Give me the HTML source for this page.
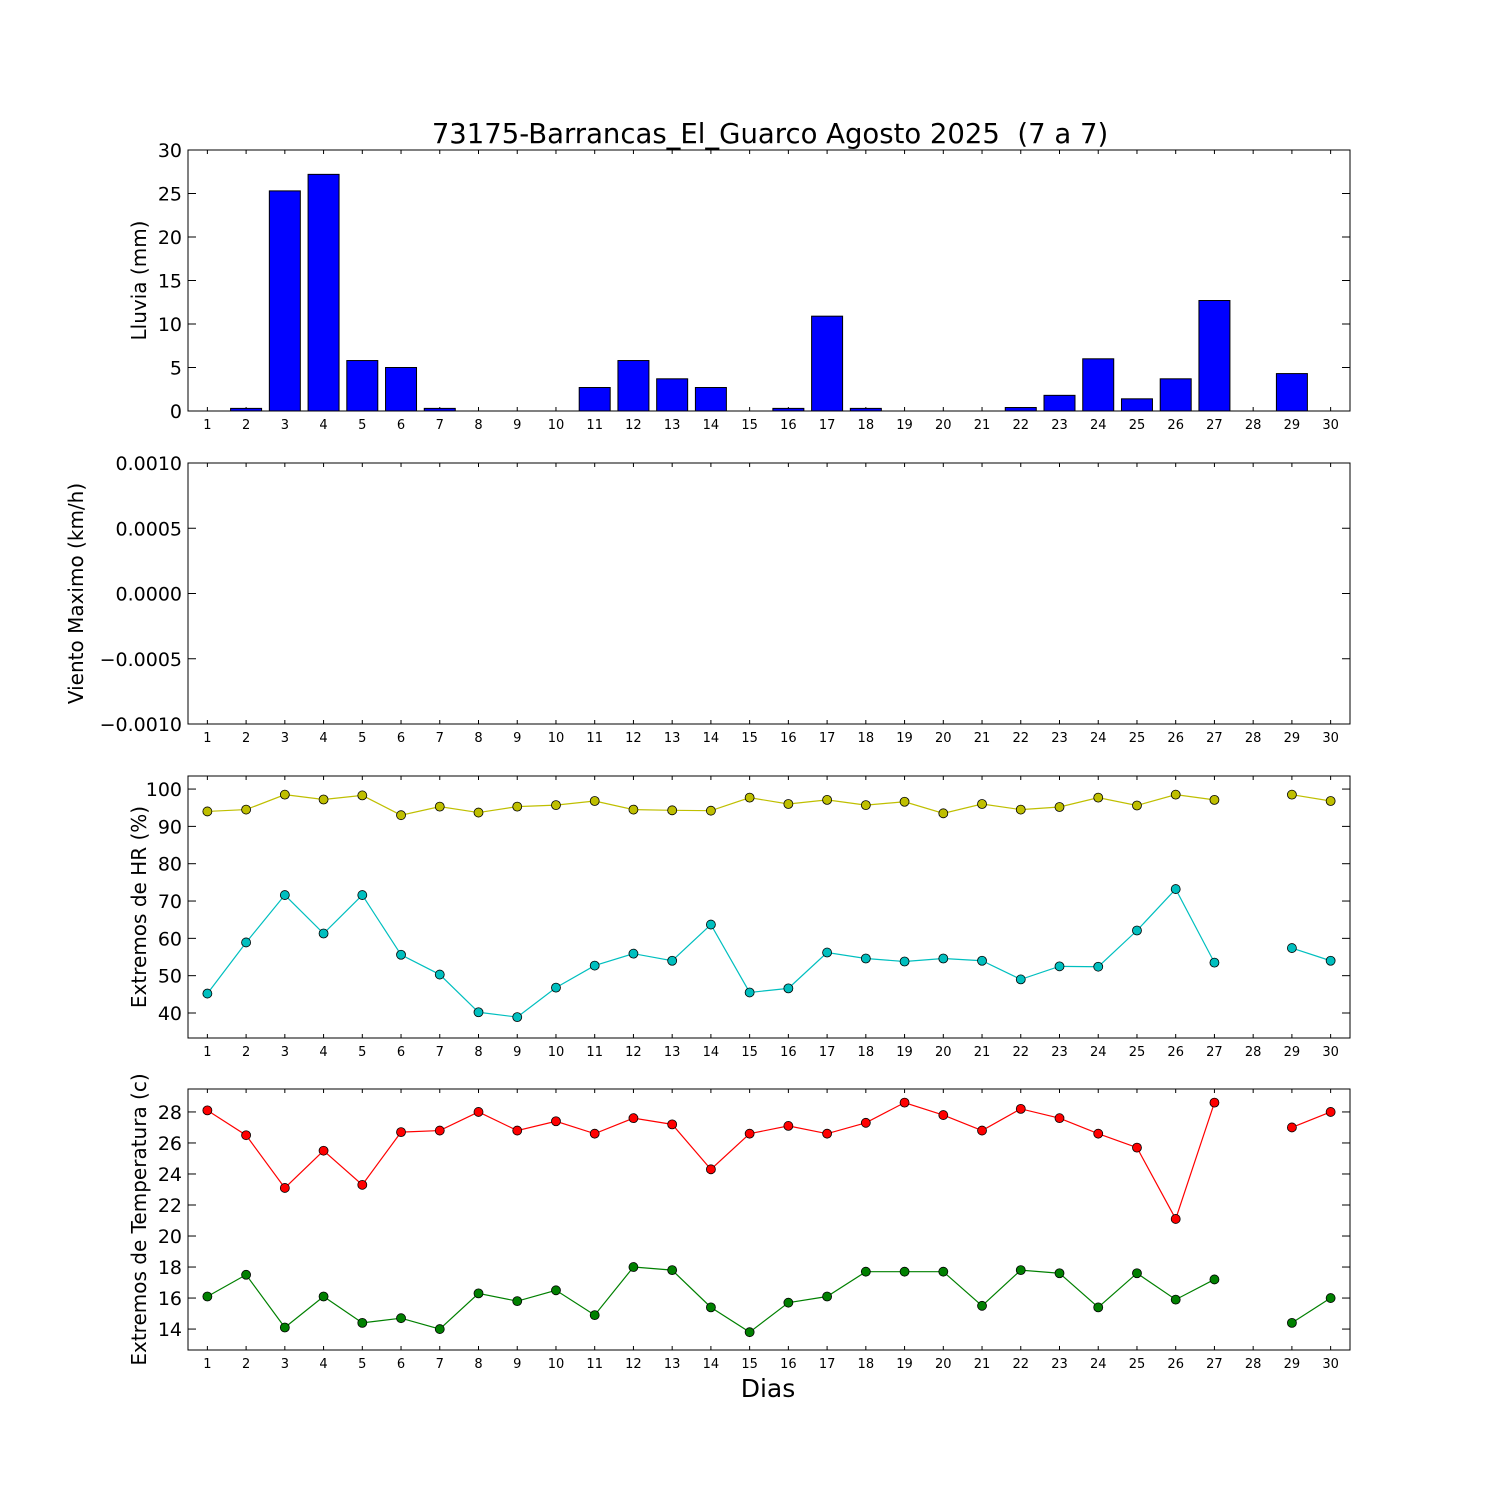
<!DOCTYPE html>
<html><head><meta charset="utf-8"><style>
body{margin:0;background:#fff}
svg{display:block;font-family:"DejaVu Sans","Liberation Sans",sans-serif}
</style></head><body>
<svg id="c" width="1500" height="1500" viewBox="0 0 1500 1500"></svg>
<script>
const days=[1,2,3,4,5,6,7,8,9,10,11,12,13,14,15,16,17,18,19,20,21,22,23,24,25,26,27,28,29,30];
const rain=[0,0.3,25.3,27.2,5.8,5.0,0.3,0,0,0,2.7,5.8,3.7,2.7,0,0.3,10.9,0.3,0,0,0,0.4,1.8,6.0,1.4,3.7,12.7,null,4.3,0];
const hrMax=[94,94.5,98.5,97.2,98.3,93,95.3,93.7,95.3,95.7,96.8,94.5,94.3,94.2,97.7,96,97.1,95.7,96.6,93.5,96,94.5,95.2,97.7,95.6,98.5,97.1,null,98.5,96.8];
const hrMin=[45.2,58.9,71.6,61.3,71.6,55.6,50.3,40.2,38.9,46.8,52.7,55.9,54,63.7,45.5,46.6,56.2,54.6,53.8,54.6,54,49,52.5,52.4,62.1,73.2,53.5,null,57.4,54];
const tMax=[28.1,26.5,23.1,25.5,23.3,26.7,26.8,28,26.8,27.4,26.6,27.6,27.2,24.3,26.6,27.1,26.6,27.3,28.6,27.8,26.8,28.2,27.6,26.6,25.7,21.1,28.6,null,27,28];
const tMin=[16.1,17.5,14.1,16.1,14.4,14.7,14,16.3,15.8,16.5,14.9,18,17.8,15.4,13.8,15.7,16.1,17.7,17.7,17.7,15.5,17.8,17.6,15.4,17.6,15.9,17.2,null,14.4,16];
const rainTicks=[0,5,10,15,20,25,30];
const windTicks=["0.0010","0.0005","0.0000","\u22120.0005","\u22120.0010"];
const hrTicks=[40,50,60,70,80,90,100];
const tTicks=[14,16,18,20,22,24,26,28];

const svg=document.getElementById('c');const NS='http://www.w3.org/2000/svg';
function el(t,a,p){const e=document.createElementNS(NS,t);for(const k in a)e.setAttribute(k,a[k]);(p||svg).appendChild(e);return e;}
const X0=188,X1=1350;
const xs=d=>X0+(d-0.5)*(X1-X0)/30;
function panel(name,top,bot,ymin,ymax,ylabel,ticks,tickLabels,labX){
  const g=el('g',{});
  
  
  const ys=v=>bot-(v-ymin)/(ymax-ymin)*(bot-top);
  el('rect',{x:X0,y:top,width:X1-X0,height:bot-top,fill:'none',stroke:'#000','stroke-width':1},g);
  days.forEach(d=>{const x=xs(d);
    el('line',{x1:x,x2:x,y1:bot,y2:bot-4,stroke:'#000'},g);
    el('line',{x1:x,x2:x,y1:top,y2:top+4,stroke:'#000'},g);
    const t=el('text',{x:x,y:bot+18,'font-size':13,'text-anchor':'middle'},g);t.textContent=d;});
  ticks.forEach((v,i)=>{const y=ys(v);
    el('line',{x1:X0,x2:X0+8,y1:y,y2:y,stroke:'#000'},g);
    el('line',{x1:X1,x2:X1-8,y1:y,y2:y,stroke:'#000'},g);
    const t=el('text',{x:X0-6,y:y+7,'font-size':19,'text-anchor':'end'},g);t.textContent=tickLabels?tickLabels[i]:v;});
  const cy=(top+bot)/2;
  const yl=el('text',{x:0,y:0,'font-size':20,'text-anchor':'middle',transform:`translate(${labX||146},${cy}) rotate(-90)`},g);yl.textContent=ylabel;
  
  
  return {g,ys};
}
function series(p,vals,color,name){
  let seg=[];const segs=[];
  vals.forEach((v,i)=>{if(v==null){if(seg.length)segs.push(seg);seg=[];}else seg.push([xs(days[i]),p.ys(v)]);});
  if(seg.length)segs.push(seg);
  segs.forEach(s=>{const l=el('polyline',{points:s.map(q=>q.join(',')).join(' '),fill:'none',stroke:color,'stroke-width':1.2},p.g);
    
    });
  vals.forEach((v,i)=>{if(v==null)return;const c=el('circle',{cx:xs(days[i]),cy:p.ys(v),r:4.5,fill:color,stroke:'#000','stroke-width':0.8},p.g);
    
    });
}
const t=el('text',{x:770,y:143,'font-size':27.5,'text-anchor':'middle',style:'white-space:pre'});t.textContent='73175-Barrancas_El_Guarco Agosto 2025  (7 a 7)';


const p1=panel('rain-panel',150,411,0,30,'Lluvia (mm)',rainTicks);
const bw=0.8*(X1-X0)/30;
rain.forEach((v,i)=>{if(v==null)return;const y=p1.ys(v);
  const r=el('rect',{x:xs(days[i])-bw/2,y:y,width:bw,height:411-y,fill:'#0000ff',stroke:'#000','stroke-width':1},p1.g);
  
  });

panel('wind-panel',463,724,-0.001,0.001,'Viento Maximo (km/h)',[0.001,0.0005,0,-0.0005,-0.001],windTicks,83);

const p3=panel('humidity-panel',776,1038,33.3,103.5,'Extremos de HR (%)',hrTicks);
series(p3,hrMax,'#bfbf00','hr-max');
series(p3,hrMin,'#00bfbf','hr-min');

const p4=panel('temperature-panel',1089,1350,12.65,29.48,'Extremos de Temperatura (c)',tTicks);
series(p4,tMax,'#ff0000','temp-max');
series(p4,tMin,'#008000','temp-min');

const xl=el('text',{x:768,y:1397,'font-size':25,'text-anchor':'middle'});xl.textContent='Dias';

</script>
</body></html>
